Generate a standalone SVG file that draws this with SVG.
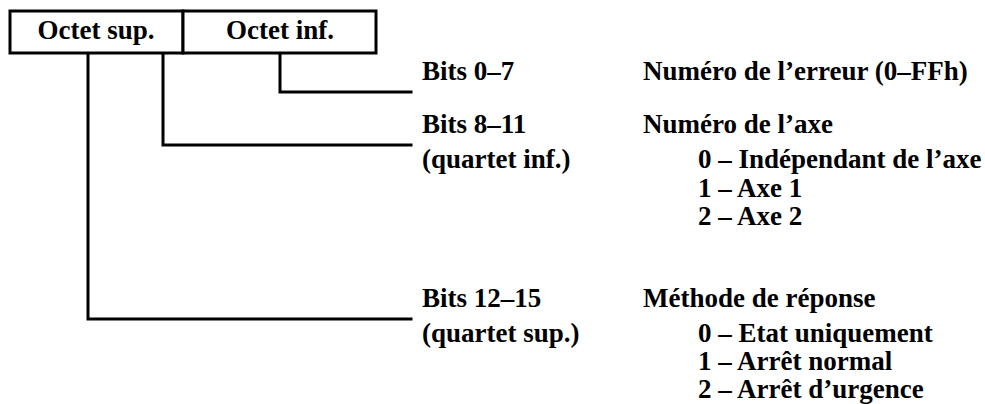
<svg xmlns="http://www.w3.org/2000/svg" width="985" height="404" viewBox="0 0 985 404">
  <style>
    .t { font-family: "Liberation Serif", "Times New Roman", serif; font-weight: bold; font-size: 27px; fill: #000; }
    .box { fill: #fff; stroke: #000; stroke-width: 3; }
    .ln { fill: none; stroke: #000; stroke-width: 3; stroke-linecap: square; stroke-linejoin: miter; }
  </style>
  <rect width="985" height="404" fill="#fff"/>

  <!-- register word: two bytes -->
  <g id="octet-sup">
    <rect class="box" x="10" y="11" width="173" height="42"/>
    <text class="t" x="96" y="39" text-anchor="middle">Octet sup.</text>
  </g>
  <g id="octet-inf">
    <rect class="box" x="183" y="11" width="193" height="42"/>
    <text class="t" x="280" y="39" text-anchor="middle">Octet inf.</text>
  </g>

  <!-- leader lines from the bytes to each bit field -->
  <g id="connectors">
    <polyline class="ln" points="280,54 280,92 411,92"/>
    <polyline class="ln" points="163,54 163,145 411,145"/>
    <polyline class="ln" points="88,54 88,319 411,319"/>
  </g>

  <g id="bits-0-7">
    <text class="t" x="422" y="80">Bits 0–7</text>
    <text class="t" x="643" y="80">Numéro de l’erreur (0–FFh)</text>
  </g>

  <g id="bits-8-11">
    <text class="t" x="422" y="133">Bits 8–11</text>
    <text class="t" x="422" y="168">(quartet inf.)</text>
    <text class="t" x="643" y="133">Numéro de l’axe</text>
    <text class="t" x="698" y="168">0 – Indépendant de l’axe</text>
    <text class="t" x="698" y="197">1 – Axe 1</text>
    <text class="t" x="698" y="225">2 – Axe 2</text>
  </g>

  <g id="bits-12-15">
    <text class="t" x="422" y="307">Bits 12–15</text>
    <text class="t" x="422" y="342">(quartet sup.)</text>
    <text class="t" x="643" y="307">Méthode de réponse</text>
    <text class="t" x="698" y="342">0 – Etat uniquement</text>
    <text class="t" x="698" y="370">1 – Arrêt normal</text>
    <text class="t" x="698" y="398">2 – Arrêt d’urgence</text>
  </g>
</svg>
